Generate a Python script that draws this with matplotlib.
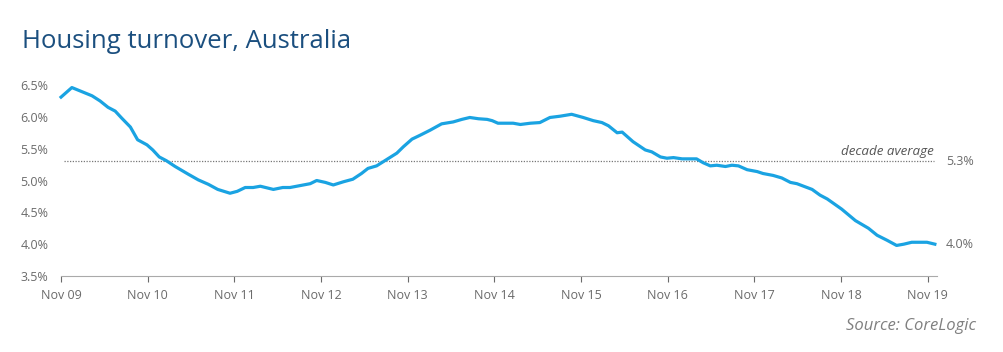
import matplotlib
matplotlib.use("Agg")
from matplotlib import pyplot as plt

# months since Nov 2009 and housing turnover (%)
months = [0, 1.5, 4.3, 5.4, 6.5, 7.5, 8.4, 9.6, 10.6, 11.9, 12.7, 13.6, 14.6, 15.8,
          17.6, 19.0, 20.4, 21.7, 23.4, 24.4, 25.5, 26.6, 27.6, 29.4, 30.7, 31.7,
          34.5, 35.4, 36.6, 37.7, 39.1, 40.4, 41.6, 42.5, 43.7, 45.1, 46.5, 47.4,
          48.6, 49.7, 51.1, 52.7, 54.3, 55.5, 56.6, 57.8, 59.0, 59.7, 60.5, 62.6,
          63.6, 65.0, 66.3, 67.7, 69.1, 70.7, 72.3, 73.7, 74.9, 75.8, 77.0, 77.7,
          79.2, 80.9, 81.8, 83.0, 83.9, 84.8, 86.0, 88.0, 88.9, 89.9, 90.8, 92.0,
          92.9, 93.8, 95.0, 96.4, 97.2, 98.6, 99.8, 101.0, 101.9, 104.0, 105.1,
          106.1, 108.1, 110.0, 111.8, 113.0, 114.4, 115.7, 116.7, 117.8, 119.9, 121.0]
turnover = [6.31, 6.46, 6.33, 6.25, 6.15, 6.09, 5.98, 5.84, 5.64, 5.56, 5.48, 5.37, 5.31, 5.22,
            5.10, 5.01, 4.94, 4.86, 4.80, 4.83, 4.89, 4.89, 4.91, 4.86, 4.89, 4.89,
            4.95, 5.00, 4.97, 4.93, 4.98, 5.02, 5.11, 5.19, 5.23, 5.33, 5.43, 5.53,
            5.65, 5.71, 5.79, 5.89, 5.92, 5.96, 5.99, 5.97, 5.96, 5.94, 5.90, 5.90,
            5.88, 5.90, 5.91, 5.99, 6.01, 6.04, 5.99, 5.94, 5.91, 5.86, 5.75, 5.76,
            5.61, 5.48, 5.45, 5.37, 5.35, 5.36, 5.34, 5.34, 5.28, 5.23, 5.24, 5.22,
            5.24, 5.23, 5.17, 5.14, 5.11, 5.08, 5.04, 4.97, 4.95, 4.86, 4.77,
            4.71, 4.55, 4.37, 4.25, 4.14, 4.06, 3.98, 4.00, 4.03, 4.03, 4.00]
decade_avg = 5.3
latest = 4.0
tick_months = [0, 12, 24, 36, 48, 60, 72, 84, 96, 108, 120]
tick_labels = ["Nov 09", "Nov 10", "Nov 11", "Nov 12", "Nov 13", "Nov 14",
               "Nov 15", "Nov 16", "Nov 17", "Nov 18", "Nov 19"]
y_ticks = [3.5, 4.0, 4.5, 5.0, 5.5, 6.0, 6.5]

plt.rcParams["font.family"] = ["Open Sans", "DejaVu Sans"]
grey = "#6b6b6b"

fig = plt.figure(figsize=(10.04, 3.52), dpi=100)
ax = fig.add_axes([0.0608, 0.2159, 0.8725, 0.5426])

ax.plot(months, turnover, color="#1aa3e2", lw=2.3, solid_joinstyle="round", clip_on=False, zorder=3)
ax.axhline(decade_avg, xmin=0.003, xmax=0.996, color="#777777", lw=0.9, ls=(0, (1, 1.2)), zorder=2)

ax.set_xlim(0, 121.3)
ax.set_ylim(3.5, 6.5)
ax.set_xticks(tick_months)
ax.set_xticklabels(tick_labels)
ax.set_yticks(y_ticks)
ax.set_yticklabels(["%.1f%%" % v for v in y_ticks])
ax.tick_params(axis="x", colors=grey, labelsize=9, length=4, width=0.8, pad=5)
ax.tick_params(axis="y", colors=grey, labelsize=9, length=0, pad=9)
for s in ["top", "right", "left"]:
    ax.spines[s].set_visible(False)
ax.spines["bottom"].set_color("#aaaaaa")
ax.spines["bottom"].set_linewidth(0.8)

ax.text(120.8, decade_avg + 0.05, "decade average", ha="right", va="bottom",
        style="italic", fontsize=9.6, color="#555555")
ax.text(122.5, decade_avg, "%.1f%%" % decade_avg, ha="left", va="center", fontsize=9, color=grey)
ax.text(122.5, latest, "%.1f%%" % latest, ha="left", va="center", fontsize=9, color=grey)

fig.text(0.022, 0.865, "Housing turnover, Australia", fontsize=18.5, color="#1b4f7f", ha="left", va="baseline")
fig.text(0.972, 0.063, "Source: CoreLogic", fontsize=12, style="italic", color="#808080", ha="right", va="baseline")

fig.savefig("out.png", dpi=100)
